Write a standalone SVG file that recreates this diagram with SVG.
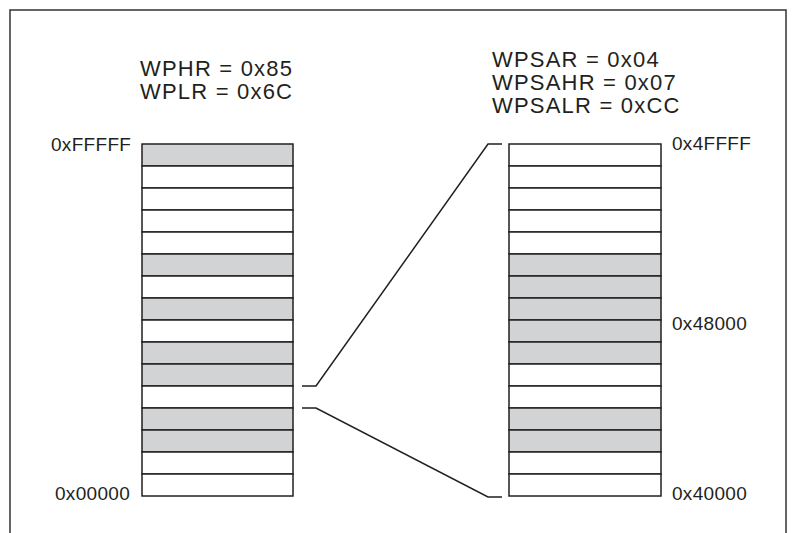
<svg xmlns="http://www.w3.org/2000/svg" width="795" height="533" viewBox="0 0 795 533">
<style>
.t{font-family:"Liberation Sans",Arial,sans-serif;fill:#231f20}
.big{font-size:22px;letter-spacing:1.2px}
.lab{font-size:19px;letter-spacing:0.3px}
.w{fill:#ffffff;stroke:#231f20;stroke-width:1.5}
.g{fill:#d1d3d4;stroke:#231f20;stroke-width:1.5}
.c{fill:none;stroke:#231f20;stroke-width:1.5}
</style>
<rect x="10" y="10" width="776" height="540" fill="#ffffff" stroke="#333333" stroke-width="1.5"/>
<g id="left-regs">
<text class="t big" x="140" y="76">WPHR = 0x85</text>
<text class="t big" x="140" y="99">WPLR = 0x6C</text>
</g>
<g id="right-regs">
<text class="t big" x="492" y="67">WPSAR = 0x04</text>
<text class="t big" x="492" y="90">WPSAHR = 0x07</text>
<text class="t big" x="492" y="113">WPSALR = 0xCC</text>
</g>
<g id="left-stack">
<rect class="g" x="142" y="144" width="151" height="22"/>
<rect class="w" x="142" y="166" width="151" height="22"/>
<rect class="w" x="142" y="188" width="151" height="22"/>
<rect class="w" x="142" y="210" width="151" height="22"/>
<rect class="w" x="142" y="232" width="151" height="22"/>
<rect class="g" x="142" y="254" width="151" height="22"/>
<rect class="w" x="142" y="276" width="151" height="22"/>
<rect class="g" x="142" y="298" width="151" height="22"/>
<rect class="w" x="142" y="320" width="151" height="22"/>
<rect class="g" x="142" y="342" width="151" height="22"/>
<rect class="g" x="142" y="364" width="151" height="22"/>
<rect class="w" x="142" y="386" width="151" height="22"/>
<rect class="g" x="142" y="408" width="151" height="22"/>
<rect class="g" x="142" y="430" width="151" height="22"/>
<rect class="w" x="142" y="452" width="151" height="22"/>
<rect class="w" x="142" y="474" width="151" height="22"/>
<text class="t lab" x="51" y="151">0xFFFFF</text>
<text class="t lab" x="55" y="500">0x00000</text>
</g>
<g id="right-stack">
<rect class="w" x="509" y="144" width="152" height="22"/>
<rect class="w" x="509" y="166" width="152" height="22"/>
<rect class="w" x="509" y="188" width="152" height="22"/>
<rect class="w" x="509" y="210" width="152" height="22"/>
<rect class="w" x="509" y="232" width="152" height="22"/>
<rect class="g" x="509" y="254" width="152" height="22"/>
<rect class="g" x="509" y="276" width="152" height="22"/>
<rect class="g" x="509" y="298" width="152" height="22"/>
<rect class="g" x="509" y="320" width="152" height="22"/>
<rect class="g" x="509" y="342" width="152" height="22"/>
<rect class="w" x="509" y="364" width="152" height="22"/>
<rect class="w" x="509" y="386" width="152" height="22"/>
<rect class="g" x="509" y="408" width="152" height="22"/>
<rect class="g" x="509" y="430" width="152" height="22"/>
<rect class="w" x="509" y="452" width="152" height="22"/>
<rect class="w" x="509" y="474" width="152" height="22"/>
<text class="t lab" x="672" y="150">0x4FFFF</text>
<text class="t lab" x="672" y="330">0x48000</text>
<text class="t lab" x="672" y="500">0x40000</text>
</g>
<g id="connectors">
<path class="c" d="M302,386 H316 L488,144 H502"/>
<path class="c" d="M302,408 H316 L488,497 H502"/>
</g>
</svg>
